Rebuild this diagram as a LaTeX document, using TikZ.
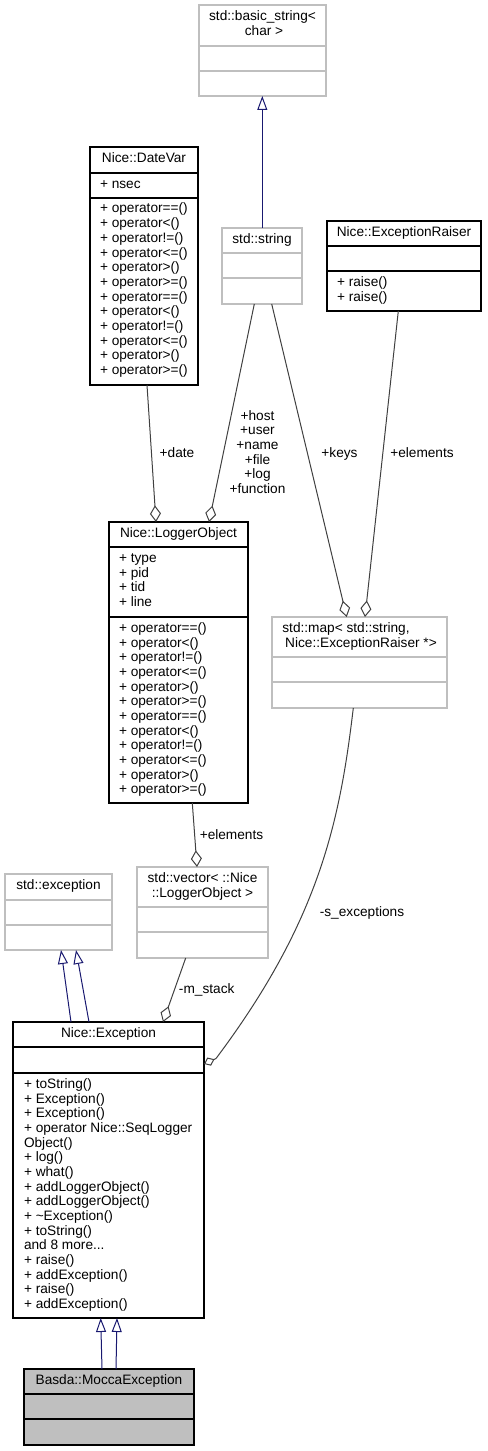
\documentclass[tikz,border=0pt]{standalone}
\usepackage{fontspec}
\setmainfont{Liberation Sans}
\usetikzlibrary{arrows.meta,fit,calc}
\definecolor{edgegray}{HTML}{404040}
\definecolor{boxgray}{HTML}{BFBFBF}
\definecolor{inhblue}{HTML}{191970}
\begin{document}
\begin{tikzpicture}[x=0.75pt,y=-0.75pt,
  every node/.style={inner sep=0pt, outer sep=0pt, font=\fontsize{10.25pt}{11pt}\selectfont},
  darkbox/.style={draw=black, line width=1pt, fill=white},
  lightbox/.style={draw=boxgray, line width=1pt, fill=white},
  greyfill/.style={draw=black, line width=1pt, fill=boxgray},
  darksep/.style={draw=black, line width=1pt},
  lightsep/.style={draw=boxgray, line width=1pt},
  ctitle/.style={anchor=base},
  member/.style={anchor=base west},
  elabel/.style={anchor=base},
  agg/.style={draw=edgegray, line width=0.75pt, -{Diamond[open, length=12.5pt, width=8.25pt]}},
  aggline/.style={draw=edgegray, line width=0.75pt},
  aggsmall/.style={draw=edgegray, line width=0.75pt, -{Diamond[open, length=8.6pt, width=6.75pt]}},
  inh/.style={draw=inhblue, line width=0.75pt, -{Triangle[open, length=10.5pt, width=7.5pt]}}
]
\useasboundingbox (0,0) rectangle (487,1451);

% ---------- std::basic_string<char>
\node[lightbox, fit={(199,5)(326,96)}] (bs) {};
\draw[lightsep] (199,46) -- (326,46);
\draw[lightsep] (199,71) -- (326,71);
\node[ctitle] (bst1) at (262.5,21) {std::basic\_string<};
\node[ctitle] (bst2) at (264,35.7) {char >};

% ---------- Nice::DateVar
\node[darkbox, fit={(90,147)(198,385)}] (dv) {};
\draw[darksep] (90,173) -- (198,173);
\draw[darksep] (90,198) -- (198,198);
\node[ctitle] (dvt) at (144,163) {Nice::DateVar};
\node[member] (dva0) at (100,189) {+ nsec};
\foreach \t [count=\i from 0] in {+ operator==(), + operator<(), + operator!=(), + operator<=(), + operator>(), + operator>=(), + operator==(), + operator<(), + operator!=(), + operator<=(), + operator>(), + operator>=()}
  \node[member] (dvm\i) at (100,{213+14.67*\i}) {\t};

% ---------- std::string
\node[lightbox, fit={(222,228)(302,304)}] (ss) {};
\draw[lightsep] (222,253) -- (302,253);
\draw[lightsep] (222,278) -- (302,278);
\node[ctitle] (sst) at (262,244) {std::string};

% ---------- Nice::ExceptionRaiser
\node[darkbox, fit={(327,221)(481,311)}] (er) {};
\draw[darksep] (327,246) -- (481,246);
\draw[darksep] (327,271) -- (481,271);
\node[ctitle] (ert) at (404,236.5) {Nice::ExceptionRaiser};
\node[member] (erm0) at (337,286.5) {+ raise()};
\node[member] (erm1) at (337,301.2) {+ raise()};

% ---------- Nice::LoggerObject
\node[darkbox, fit={(109,522)(248,803)}] (lo) {};
\draw[darksep] (109,547) -- (248,547);
\draw[darksep] (109,617) -- (248,617);
\node[ctitle] (lot) at (178.5,537.5) {Nice::LoggerObject};
\foreach \t [count=\i from 0] in {+ type, + pid, + tid, + line}
  \node[member] (loa\i) at (119,{562.5+14.67*\i}) {\t};
\foreach \t [count=\i from 0] in {+ operator==(), + operator<(), + operator!=(), + operator<=(), + operator>(), + operator>=(), + operator==(), + operator<(), + operator!=(), + operator<=(), + operator>(), + operator>=()}
  \node[member] (lom\i) at (119,{632.5+14.67*\i}) {\t};

% ---------- std::map
\node[lightbox, fit={(272,617)(447,708)}] (mp) {};
\draw[lightsep] (272,657) -- (447,657);
\draw[lightsep] (272,682) -- (447,682);
\node[ctitle] (mpt1) at (346,632.5) {std::map< std::string,};
\node[ctitle] (mpt2) at (361,647.2) {Nice::ExceptionRaiser *>};

% ---------- std::exception
\node[lightbox, fit={(5,874)(112,950)}] (se) {};
\draw[lightsep] (5,900) -- (112,900);
\draw[lightsep] (5,925) -- (112,925);
\node[ctitle] (set) at (58.5,889.5) {std::exception};

% ---------- std::vector
\node[lightbox, fit={(137,867)(268,958)}] (vc) {};
\draw[lightsep] (137,907) -- (268,907);
\draw[lightsep] (137,932) -- (268,932);
\node[ctitle] (vct1) at (202.5,882.5) {std::vector< ::Nice};
\node[ctitle] (vct2) at (202.5,897.2) {::LoggerObject >};

% ---------- Nice::Exception
\node[darkbox, fit={(13,1022)(204,1318)}] (ex) {};
\draw[darksep] (13,1047) -- (204,1047);
\draw[darksep] (13,1073) -- (204,1073);
\node[ctitle] (ext) at (108.5,1037.5) {Nice::Exception};
\node[member] (exm0) at (24,1088.5) {+ toString()};
\node[member] (exm1) at (24,1103.2) {+ Exception()};
\node[member] (exm2) at (24,1117.8) {+ Exception()};
\node[member] (exm3) at (24,1132.5) {+ operator Nice::SeqLogger};
\node[member] (exm4) at (24,1147.2) {Object()};
\node[member] (exm5) at (24,1161.9) {+ log()};
\node[member] (exm6) at (24,1176.5) {+ what()};
\node[member] (exm7) at (24,1191.2) {+ addLoggerObject()};
\node[member] (exm8) at (24,1205.9) {+ addLoggerObject()};
\node[member] (exm9) at (24,1220.5) {+ \textasciitilde Exception()};
\node[member] (exm10) at (24,1235.2) {+ toString()};
\node[member] (exm11) at (24,1249.9) {and 8 more...};
\node[member] (exm12) at (24,1264.5) {+ raise()};
\node[member] (exm13) at (24,1279.2) {+ addException()};
\node[member] (exm14) at (24,1293.9) {+ raise()};
\node[member] (exm15) at (24,1308.5) {+ addException()};

% ---------- Basda::MoccaException
\node[greyfill, fit={(24,1369)(194,1445)}] (bm) {};
\draw[darksep] (24,1394) -- (194,1394);
\draw[darksep] (24,1419) -- (194,1419);
\node[ctitle] (bmt) at (109,1384.5) {Basda::MoccaException};

% ---------- connectors
\draw[inh] ($(ss.north west)+(40.3,0)$) -- ($(bs.south west)+(63.3,0)$);
\draw[agg] ($(dv.south west)+(57,0)$) -- ($(lo.north west)+(47,0)$);
\draw[agg] ($(ss.south west)+(32.3,0)$) -- ($(lo.north west)+(100,0)$);
\draw[agg] ($(ss.south west)+(49.7,0)$) -- ($(mp.north west)+(74.7,0)$);
\draw[agg] ($(er.south west)+(71.3,0)$) -- ($(mp.north west)+(93,0)$);
\draw[agg] ($(lo.south west)+(83.3,0)$) -- ($(vc.north west)+(60,0)$);
\draw[agg] ($(vc.south west)+(48.7,0)$) -- ($(ex.north west)+(150,0)$);
\coordinate (sx) at (216,1058.5);
\draw[aggline] ($(mp.south west)+(81.3,0)$) .. controls (340,820) and (320,920) .. (sx);
\draw[aggsmall] (sx) -- ($(ex.north east)+(0,42)$);
\draw[inh] ($(ex.north west)+(58,0)$) -- ($(se.south west)+(56,0)$);
\draw[inh] ($(ex.north west)+(76,0)$) -- ($(se.south west)+(71,0)$);
\draw[inh] ($(bm.north west)+(78,0)$) -- ($(ex.south west)+(87.7,0)$);
\draw[inh] ($(bm.north west)+(92,0)$) -- ($(ex.south west)+(104,0)$);

% ---------- edge labels
\node[elabel] (ldate) at (177,457) {+date};
\foreach \t [count=\i from 0] in {+host, +user, +name, +file, +log, +function}
  \node[elabel] (lhost\i) at (257.5,{420+14.67*\i}) {\t};
\node[elabel] (lkeys) at (339.5,457) {+keys};
\node[elabel] (lel1) at (422,457) {+elements};
\node[elabel] (lel2) at (231.5,839) {+elements};
\node[elabel] (lms) at (206.7,993) {-m\_stack};
\node[elabel] (lse) at (362,916) {-s\_exceptions};
\end{tikzpicture}
\end{document}
